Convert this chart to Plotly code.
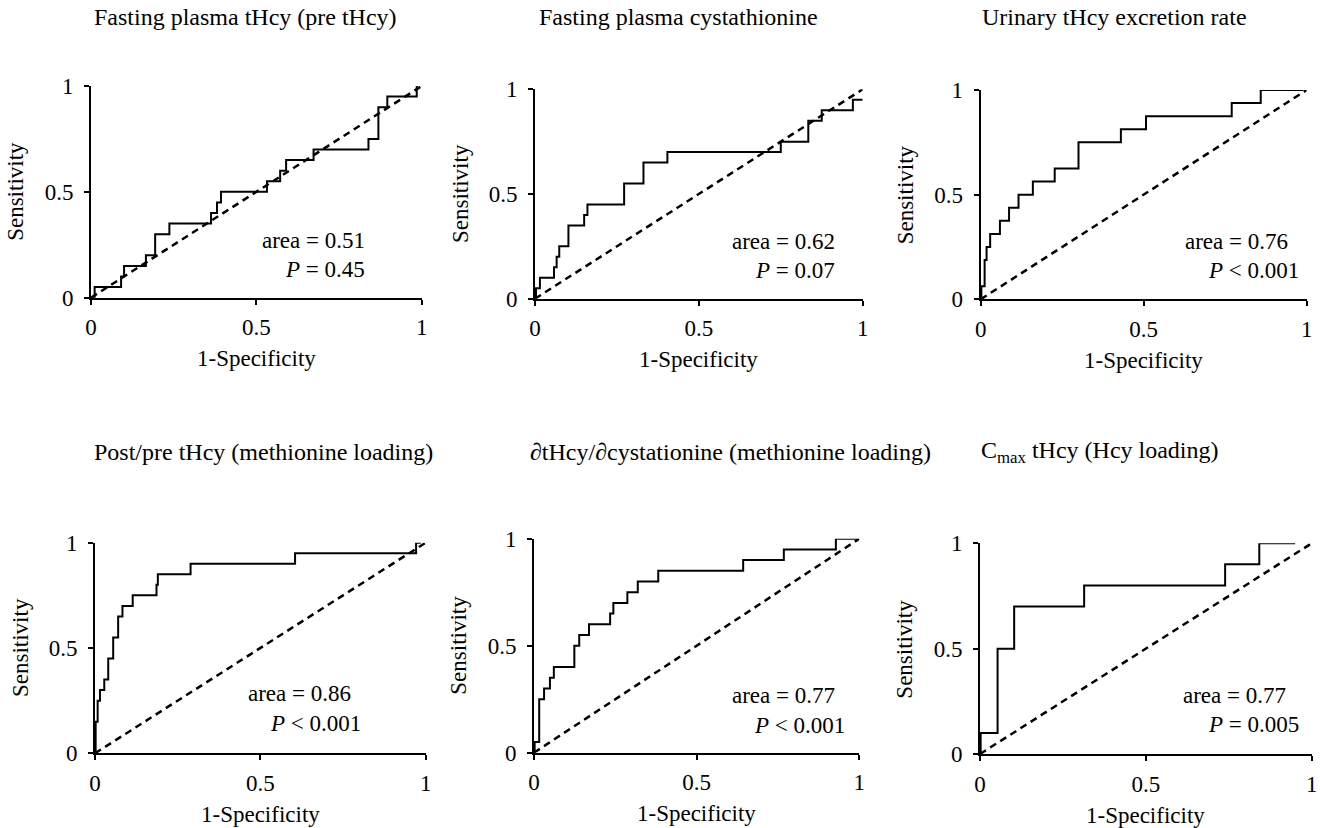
import plotly.graph_objects as go

# ---------------- data ----------------
titles = [
    "Fasting plasma tHcy (pre tHcy)",
    "Fasting plasma cystathionine",
    "Urinary tHcy excretion rate",
    "Post/pre tHcy (methionine loading)",
    "∂tHcy/∂cystationine (methionine loading)",
    "C<sub>max</sub> tHcy (Hcy loading)",
]

# ROC step vertices: (1-specificity at which sensitivity rises, new sensitivity)
p1_fpr = [0, 0.011, 0.091, 0.100, 0.166, 0.194, 0.237, 0.363, 0.381, 0.393, 0.532, 0.572, 0.590, 0.673, 0.839, 0.869, 0.896, 0.985]
p1_tpr = [0, 0.05, 0.10, 0.15, 0.20, 0.30, 0.35, 0.40, 0.45, 0.50, 0.55, 0.60, 0.65, 0.70, 0.75, 0.90, 0.95, 1.00]

p2_fpr = [0, 0.003, 0.015, 0.058, 0.066, 0.074, 0.102, 0.150, 0.160, 0.272, 0.331, 0.404, 0.750, 0.834, 0.875, 0.970, 1.000]
p2_tpr = [0, 0.05, 0.10, 0.15, 0.20, 0.25, 0.35, 0.40, 0.45, 0.55, 0.65, 0.70, 0.75, 0.85, 0.90, 0.95, 0.95]

p3_fpr = [0, 0.002, 0.012, 0.018, 0.029, 0.059, 0.087, 0.116, 0.160, 0.227, 0.300, 0.430, 0.507, 0.770, 0.859, 0.990]
p3_tpr = [0, 0.0625, 0.1875, 0.25, 0.3125, 0.375, 0.4375, 0.5, 0.5625, 0.625, 0.75, 0.8125, 0.875, 0.9375, 1.0, 1.0]

p4_fpr = [0, 0.002, 0.008, 0.015, 0.028, 0.040, 0.055, 0.070, 0.083, 0.114, 0.186, 0.190, 0.289, 0.605, 0.971, 0.985]
p4_tpr = [0, 0.15, 0.25, 0.30, 0.35, 0.45, 0.55, 0.65, 0.70, 0.75, 0.80, 0.85, 0.90, 0.95, 1.00, 1.00]

p5_fpr = [0, 0.002, 0.016, 0.031, 0.049, 0.061, 0.124, 0.139, 0.169, 0.234, 0.244, 0.287, 0.319, 0.382, 0.643, 0.768, 0.928, 0.997]
p5_tpr = [0, 0.05, 0.25, 0.30, 0.35, 0.40, 0.50, 0.55, 0.60, 0.65, 0.70, 0.75, 0.80, 0.85, 0.90, 0.95, 1.00, 1.00]

p6_fpr = [0, 0.002, 0.053, 0.103, 0.314, 0.739, 0.842, 0.950]
p6_tpr = [0, 0.10, 0.50, 0.70, 0.80, 0.90, 1.00, 1.00]

chance_line = [0, 1]

areas = ["0.51", "0.62", "0.76", "0.86", "0.77", "0.77"]
p_values = ["= 0.45", "= 0.07", "< 0.001", "< 0.001", "< 0.001", "= 0.005"]

tick_vals = [0, 0.5, 1]
tick_text = ["0", "0.5", "1"]
x_title = "1-Specificity"
y_title = "Sensitivity"

curves = [(p1_fpr, p1_tpr), (p2_fpr, p2_tpr), (p3_fpr, p3_tpr),
          (p4_fpr, p4_tpr), (p5_fpr, p5_tpr), (p6_fpr, p6_tpr)]

# ---------------- layout (pixels) ----------------
W, H = 1320, 828
# origin x, origin y, x of value 1, y of value 1
PANEL_PX = [
    (91.0, 297.7, 421.7, 86.0),
    (535.0, 298.7, 862.7, 89.3),
    (980.7, 299.3, 1306.7, 90.0),
    (95.0, 753.3, 425.7, 542.7),
    (534.0, 752.7, 859.3, 538.7),
    (980.0, 754.0, 1311.7, 543.3),
]
TITLE_LEFT = [92, 537, 980, 92, 528, 979]
TITLE_Y = [17, 17, 17, 452, 452, 452]
# annotation anchor (data coords, right aligned)
AREA_POS = [(0.834, 0.272), (0.923, 0.272), (0.949, 0.275), (0.781, 0.285), (0.932, 0.269), (0.930, 0.280)]
P_POS = [(0.834, 0.134), (0.923, 0.137), (0.982, 0.137), (0.811, 0.142), (0.963, 0.129), (0.967, 0.138)]

FONT = "Liberation Serif, Times New Roman, serif"
FS = 23

fig = go.Figure()
annotations = []
layout = {}

for i, ((fx, fy), (ox, oy, ux, uy)) in enumerate(zip(curves, PANEL_PX)):
    n = i + 1
    xa = "x" if n == 1 else f"x{n}"
    ya = "y" if n == 1 else f"y{n}"

    fig.add_trace(go.Scatter(x=chance_line, y=chance_line, mode="lines", xaxis=xa, yaxis=ya,
                             line=dict(color="black", width=2.5, dash="7px,5px"),
                             cliponaxis=False, showlegend=False, hoverinfo="skip"))
    fig.add_trace(go.Scatter(x=fx, y=fy, mode="lines", line_shape="hv", xaxis=xa, yaxis=ya,
                             line=dict(color="black", width=2),
                             cliponaxis=False, showlegend=False))

    common = dict(range=[0, 1], showline=True, linecolor="black", linewidth=2,
                  ticks="outside", ticklen=5, tickwidth=2, tickcolor="black",
                  tickvals=tick_vals, ticktext=tick_text, showgrid=False, zeroline=False,
                  tickfont=dict(family=FONT, size=FS, color="black"), fixedrange=True)
    layout[f"xaxis{n}"] = dict(common, domain=[ox / W, ux / W], anchor=ya, ticklabelstandoff=3)
    layout[f"yaxis{n}"] = dict(common, domain=[1 - oy / H, 1 - uy / H], anchor=xa, ticklabelstandoff=6)

    # panel title
    annotations.append(dict(text=titles[i], xref="paper", yref="paper",
                            x=TITLE_LEFT[i] / W, y=1 - TITLE_Y[i] / H,
                            xanchor="left", yanchor="middle", showarrow=False,
                            font=dict(family=FONT, size=FS + 1, color="black")))
    # axis titles
    annotations.append(dict(text=x_title, xref="paper", yref="paper",
                            x=(ox + ux) / 2 / W, y=1 - (oy + 61) / H,
                            xanchor="center", yanchor="middle", showarrow=False,
                            font=dict(family=FONT, size=FS, color="black")))
    annotations.append(dict(text=y_title, xref="paper", yref="paper",
                            x=(ox - 75) / W, y=1 - (oy + uy) / 2 / H, textangle=-90,
                            xanchor="center", yanchor="middle", showarrow=False,
                            font=dict(family=FONT, size=FS, color="black")))
    # area / P
    annotations.append(dict(text=f"area = {areas[i]}", xref=xa, yref=ya,
                            x=AREA_POS[i][0], y=AREA_POS[i][1],
                            xanchor="right", yanchor="middle", showarrow=False,
                            font=dict(family=FONT, size=FS, color="black")))
    annotations.append(dict(text=f"<i>P</i> {p_values[i]}", xref=xa, yref=ya,
                            x=P_POS[i][0], y=P_POS[i][1],
                            xanchor="right", yanchor="middle", showarrow=False,
                            font=dict(family=FONT, size=FS, color="black")))

fig.update_layout(**layout)
fig.update_layout(width=W, height=H, margin=dict(l=0, r=0, t=0, b=0, autoexpand=False),
                  paper_bgcolor="white", plot_bgcolor="white",
                  annotations=annotations, showlegend=False,
                  font=dict(family=FONT, size=FS, color="black"))

fig.write_html("out.html", config={"displayModeBar": False},
               post_script="document.body.style.margin='0';")
